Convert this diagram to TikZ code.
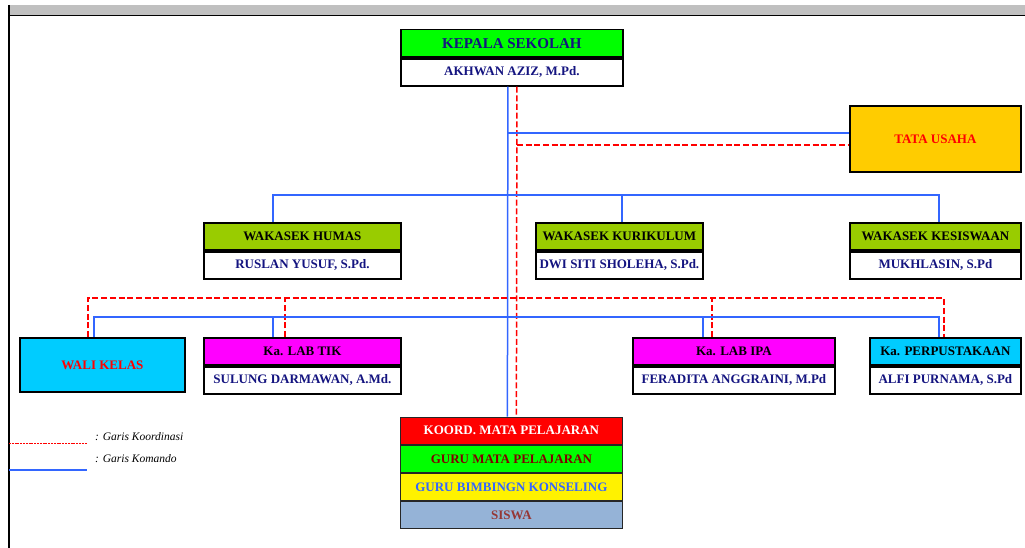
\documentclass[tikz,border=0pt]{standalone}
\usepackage{fontspec}
\setmainfont{Liberation Serif}
\definecolor{komblue}{RGB}{51,102,255}
\definecolor{navytext}{RGB}{20,20,128}
\definecolor{kgreen}{RGB}{0,255,0}
\definecolor{wgreen}{RGB}{153,204,0}
\definecolor{tugold}{RGB}{255,204,0}
\definecolor{cyanbox}{RGB}{0,204,255}
\definecolor{magbox}{RGB}{255,0,255}
\definecolor{siswabg}{RGB}{149,179,215}
\definecolor{darkredtext}{RGB}{128,0,0}
\definecolor{siswatext}{RGB}{149,55,53}
\definecolor{bargray}{RGB}{192,192,192}
\begin{document}
\begin{tikzpicture}[x=1pt,y=-1pt,
 box/.style={draw=black,line width=1.8pt,inner sep=0pt,anchor=north west,font=\bfseries\fontsize{13}{15}\selectfont},
 sub/.style={draw=black,line width=1.8pt,inner sep=0pt,anchor=north,font=\bfseries\fontsize{13}{15}\selectfont,fill=white,text=navytext},
 stk/.style={draw=black!85,line width=0.8pt,inner sep=0pt,minimum width=222pt,minimum height=27.3pt,font=\bfseries\fontsize{13}{15}\selectfont},
 kom/.style={komblue,line width=1.5pt},
 koo/.style={red,line width=1.5pt,dash pattern=on 6pt off 2.7pt},
 legtext/.style={anchor=west,inner sep=0pt,font=\itshape\fontsize{11.5}{13}\selectfont},
]
\useasboundingbox (0,0) rectangle (1025,548);
% frame
\fill[bargray] (9,5) rectangle (1025,15);
\draw[line width=1.5pt] (9,15.5) -- (1025,15.5);
\draw[line width=1.8pt] (9,5) -- (9,548);

% Kepala sekolah
\node[box,fill=kgreen,text=navytext,minimum width=222pt,minimum height=27.3pt,font=\bfseries\fontsize{15}{17}\selectfont] (ks) at (400,28.7) {KEPALA SEKOLAH};
\node[sub,minimum width=222pt,minimum height=27pt] (ksn) at (ks.south) {AKHWAN AZIZ, M.Pd.};

% Tata usaha
\node[box,fill=tugold,text=red,minimum width=171pt,minimum height=66pt] (tu) at (849,105) {TATA USAHA};

% Wakasek
\node[box,fill=wgreen,text=black,minimum width=197pt,minimum height=27pt] (hum) at (203,222) {WAKASEK HUMAS};
\node[sub,minimum width=197pt,minimum height=27pt] (humn) at (hum.south) {RUSLAN YUSUF, S.Pd.};
\node[box,fill=wgreen,text=black,minimum width=167pt,minimum height=27pt] (kur) at (535,222) {WAKASEK KURIKULUM};
\node[sub,minimum width=167pt,minimum height=27pt] (kurn) at (kur.south) {DWI SITI SHOLEHA, S.Pd.};
\node[box,fill=wgreen,text=black,minimum width=171pt,minimum height=27pt] (kes) at (849,222) {WAKASEK KESISWAAN};
\node[sub,minimum width=171pt,minimum height=27pt] (kesn) at (kes.south) {MUKHLASIN, S.Pd};

% Row 3
\node[box,fill=cyanbox,text=red,minimum width=165pt,minimum height=54pt] (wk) at (19,337) {WALI KELAS};
\node[box,fill=magbox,text=black,minimum width=197pt,minimum height=27pt] (tik) at (203,337) {Ka. LAB TIK};
\node[sub,minimum width=197pt,minimum height=27pt] (tikn) at (tik.south) {SULUNG DARMAWAN, A.Md.};
\node[box,fill=magbox,text=black,minimum width=202pt,minimum height=27pt] (ipa) at (632,337) {Ka. LAB IPA};
\node[sub,minimum width=202pt,minimum height=27pt] (ipan) at (ipa.south) {FERADITA ANGGRAINI, M.Pd};
\node[box,fill=cyanbox,text=black,minimum width=151pt,minimum height=27pt] (per) at (869,337) {Ka. PERPUSTAKAAN};
\node[sub,minimum width=151pt,minimum height=27pt] (pern) at (per.south) {ALFI PURNAMA, S.Pd};

% Bottom stack
\node[stk,anchor=north west,fill=red,text=white] (ko) at (400,416.7) {KOORD. MATA PELAJARAN};
\node[stk,anchor=north,fill=kgreen,text=darkredtext] (gm) at (ko.south) {GURU MATA PELAJARAN};
\node[stk,anchor=north,fill=yellow,text=komblue] (bk) at (gm.south) {GURU BIMBINGN KONSELING};
\node[stk,anchor=north,fill=siswabg,text=siswatext] (sw) at (bk.south) {SISWA};

% main verticals
\coordinate (a1) at ([xshift=-4pt]ksn.south);
\coordinate (a2) at ([xshift=-4pt]ko.north);
\coordinate (r1) at ([xshift=5pt]ksn.south);
\coordinate (r2) at ([xshift=5pt]ko.north);
\draw[kom] (a1) -- (a2);
\draw[koo] (r1) -- (r2);
\coordinate (tub) at ([yshift=6pt]tu.west);
\coordinate (tur) at ([yshift=-6pt]tu.west);
\draw[kom] (a1 |- tub) -- (tub);
\draw[koo] (r1 |- tur) -- (tur);

% wakasek bus
\coordinate (bus1) at (0,195);
\coordinate (hd) at ([xshift=-29.5pt]hum.north);
\coordinate (kd) at ([xshift=2.5pt]kur.north);
\coordinate (sd) at ([xshift=3.5pt]kes.north);
\draw[kom] (hd) -- (hd |- bus1) -- (sd |- bus1) -- (sd);
\draw[kom] (kd) -- (kd |- bus1);

% lower koordinasi bus
\coordinate (bus3) at (0,298);
\coordinate (wkr) at ([xshift=-14.5pt]wk.north);
\coordinate (tikr) at ([xshift=-17.5pt]tik.north);
\coordinate (ipar) at ([xshift=-22pt]ipa.north);
\coordinate (perr) at ([xshift=-1.5pt]per.north);
\draw[koo] (wkr) -- (wkr |- bus3) -- (perr |- bus3) -- (perr);
\draw[koo] (tikr) -- (tikr |- bus3);
\draw[koo] (ipar) -- (ipar |- bus3);

% lower komando bus
\coordinate (bus2) at (0,317);
\coordinate (wkb) at ([xshift=-8.5pt]wk.north);
\coordinate (tikb) at ([xshift=-29.5pt]tik.north);
\coordinate (ipab) at ([xshift=-31pt]ipa.north);
\coordinate (perb) at ([xshift=-6.5pt]per.north);
\draw[kom] (wkb) -- (wkb |- bus2) -- (perb |- bus2) -- (perb);
\draw[kom] (tikb) -- (tikb |- bus2);
\draw[kom] (ipab) -- (ipab |- bus2);

% legend
\coordinate (lg1a) at (9,443);
\coordinate (lg1b) at (87,443);
\draw[red,line width=1pt,dash pattern=on 2pt off 0.8pt] (lg1a) -- (lg1b);
\node[legtext] (lgt1) at (95,437) {: Garis Koordinasi};
\coordinate (lg2a) at (9,470);
\coordinate (lg2b) at (87,470);
\draw[komblue,line width=1.8pt] (lg2a) -- (lg2b);
\node[legtext] (lgt2) at (95,459) {: Garis Komando};
\end{tikzpicture}
\end{document}
